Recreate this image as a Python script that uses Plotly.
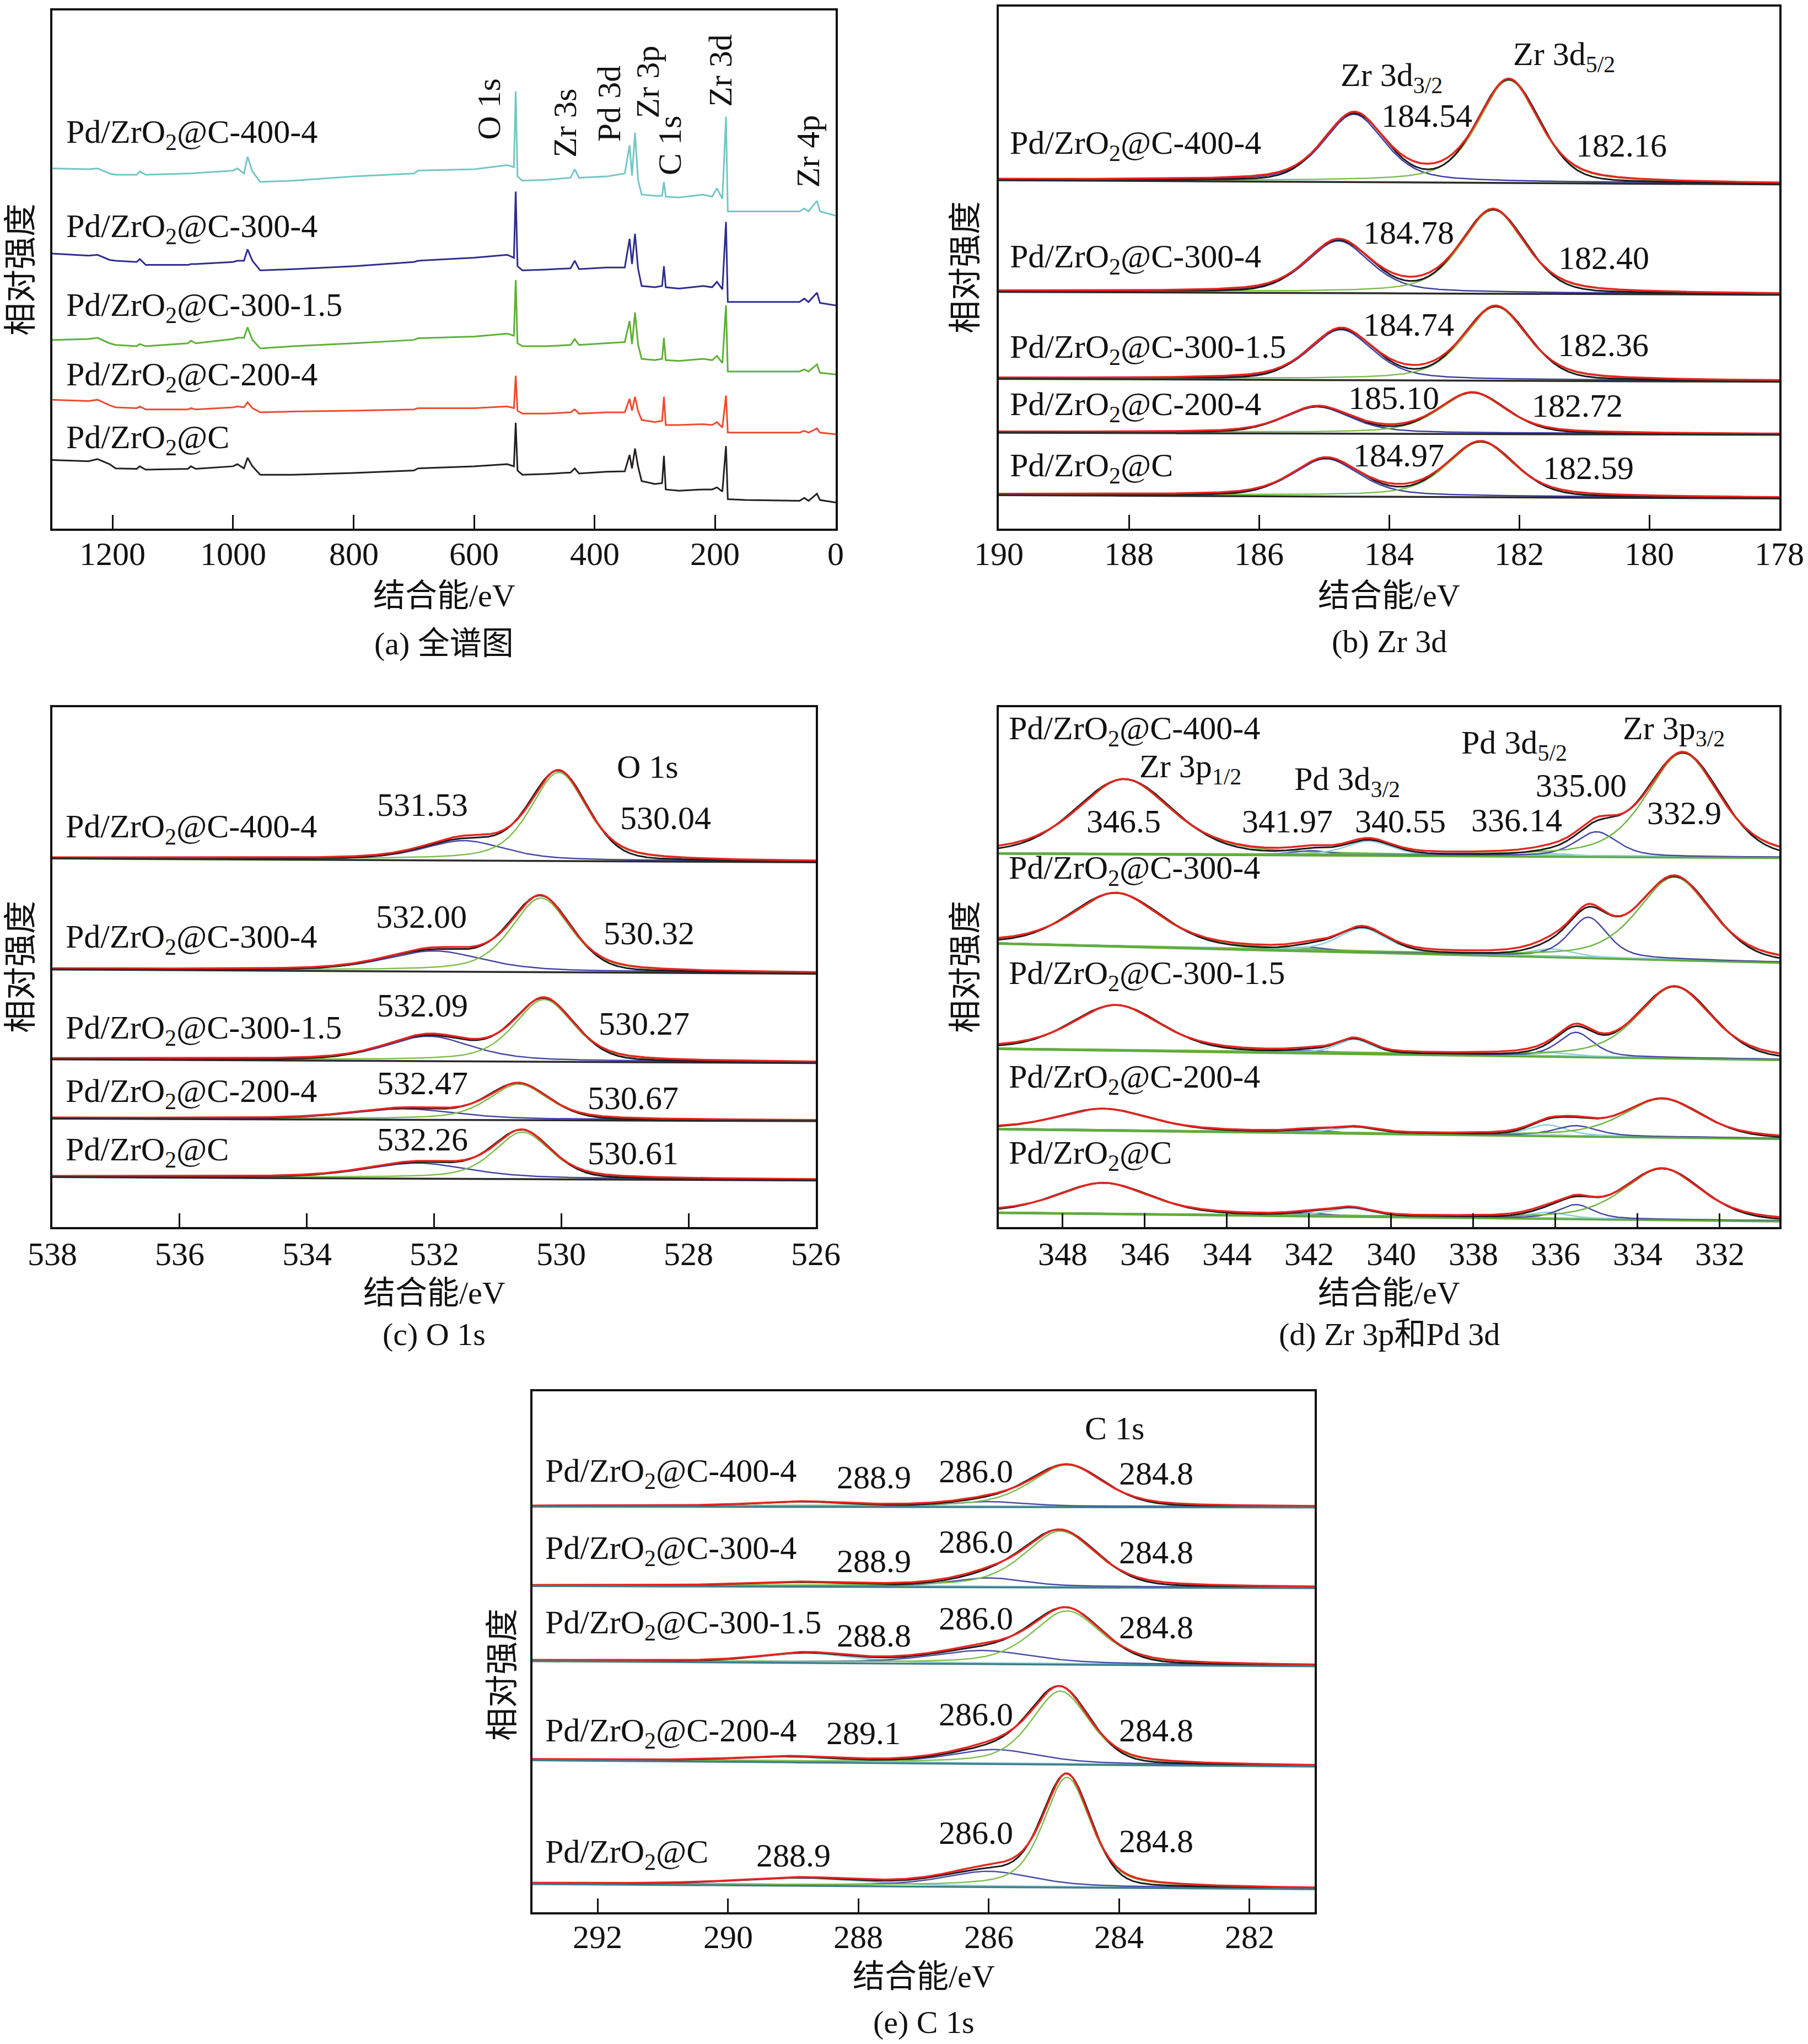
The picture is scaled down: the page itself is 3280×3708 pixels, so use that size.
import numpy as np
import plotly.graph_objects as go

FONT = "Liberation Serif, Noto Sans CJK SC, serif"
W, H = 3280, 3708

SAMPLES = ["Pd/ZrO<sub>2</sub>@C-400-4", "Pd/ZrO<sub>2</sub>@C-300-4", "Pd/ZrO<sub>2</sub>@C-300-1.5",
           "Pd/ZrO<sub>2</sub>@C-200-4", "Pd/ZrO<sub>2</sub>@C"]

# ---------------- (a) survey spectra ----------------
A_ENERGY = [1300, 1240, 1225, 1205, 1195, 1160, 1155, 1145, 1075, 1070,
            1062, 1000, 993, 982, 976, 968, 955, 900, 800, 700,
            693, 600, 545, 534, 531, 528, 520, 480, 440, 433,
            426, 380, 350, 342, 338, 333, 328, 322, 300, 288,
            285, 282, 260, 220, 205, 197, 188, 182, 179, 150,
            60, 52, 45, 31, 26, 0]
A_400_4 = [855, 853, 855, 843, 840, 840, 848, 840, 843, 843,
           844, 850, 855, 843, 883, 848, 823, 826, 836, 843,
           850, 853, 863, 858, 1038, 836, 826, 828, 833, 853,
           833, 836, 843, 910, 838, 940, 828, 793, 790, 790,
           823, 788, 786, 793, 788, 808, 783, 978, 753, 753,
           753, 760, 753, 778, 753, 743]
A_300_4 = [653, 648, 650, 638, 636, 633, 640, 626, 626, 628,
           628, 633, 636, 636, 663, 636, 613, 616, 623, 633,
           636, 643, 650, 643, 800, 623, 613, 615, 618, 636,
           616, 620, 620, 688, 628, 700, 618, 576, 573, 576,
           623, 573, 570, 576, 573, 586, 568, 728, 538, 538,
           538, 546, 538, 560, 536, 530]
A_300_15 = [448, 450, 453, 440, 436, 433, 438, 433, 440, 446,
            440, 450, 453, 453, 478, 448, 428, 433, 440, 448,
            452, 456, 463, 458, 590, 440, 433, 433, 436, 450,
            436, 440, 443, 493, 438, 513, 438, 403, 400, 403,
            453, 400, 398, 403, 400, 410, 393, 530, 373, 373,
            373, 378, 373, 390, 370, 366]
A_200_4 = [306, 303, 306, 293, 288, 286, 290, 283, 283, 286,
           283, 288, 290, 288, 300, 286, 276, 278, 280, 283,
           286, 286, 290, 286, 363, 280, 273, 273, 276, 283,
           273, 276, 276, 308, 280, 313, 280, 258, 253, 256,
           313, 246, 246, 248, 246, 253, 240, 316, 228, 228,
           228, 232, 228, 238, 228, 224]
A_C = [163, 160, 165, 153, 143, 142, 148, 140, 142, 148,
       142, 148, 153, 143, 168, 148, 128, 128, 132, 138,
       143, 148, 153, 148, 251, 138, 128, 130, 133, 143,
       131, 135, 136, 175, 143, 190, 148, 113, 106, 108,
       173, 93, 90, 93, 93, 98, 88, 196, 70, 68,
       66, 73, 66, 83, 68, 62]
A_COLORS = ["#74c6c4", "#2d2d8f", "#5cb035", "#ee4a2e", "#231f20"]
A_NAME_Y = [936, 713, 526, 360, 211]
A_PEAK_TEXT = ["O 1s", "Zr 3s", "Pd 3d", "Zr 3p", "C 1s", "Zr 3d", "Zr 4p"]
A_PEAK_X = [575.5, 449.5, 376.4, 312.4, 275.9, 191.8, 45.7]
A_PEAK_Y = [996, 963, 1008, 1060, 910, 1088, 896]

# ---------------- (b) Zr 3d ----------------
B_BASE_L = [823, 560, 355, 228, 81]
B_BASE_R = [813, 553, 348, 223, 73]
B_CENTERS = [[184.54, 182.16], [184.78, 182.40], [184.74, 182.36], [185.10, 182.72], [184.97, 182.59]]
B_HEIGHTS = [[158, 240], [121, 195], [117, 172], [61, 95], [87, 128]]
B_FWHM = [[1.1, 1.1], [1.15, 1.15], [1.15, 1.15], [1.2, 1.2], [1.2, 1.2]]
B_COMP_COLORS = ["#3c3ca2", "#7cbf4a"]
B_NAME_Y = [903, 636, 423, 288, 143]
B_VAL_TEXT = ["184.54", "182.16", "184.78", "182.40", "184.74", "182.36", "185.10", "182.72", "184.97", "182.59"]
B_VAL_X = [183.42, 180.43, 183.70, 180.70, 183.70, 180.71, 183.93, 181.11, 183.85, 180.94]
B_VAL_Y = [973, 903, 698, 638, 480, 433, 308, 290, 173, 143]
B_TITLE_TEXT = ["Zr 3d<sub>3/2</sub>", "Zr 3d<sub>5/2</sub>"]
B_TITLE_X = [183.96, 181.31]
B_TITLE_Y = [1063, 1113]

# ---------------- (c) O 1s ----------------
C_BASE_L = [872, 610, 398, 258, 120]
C_BASE_R = [863, 600, 389, 252, 112]
C_CENTERS = [[531.53, 530.04], [532.00, 530.32], [532.09, 530.27], [532.47, 530.67], [532.26, 530.61]]
C_HEIGHTS = [[45, 207], [47, 173], [57, 145], [24, 83], [35, 109]]
C_FWHM = [[1.5, 1.05], [1.8, 1.1], [1.6, 1.1], [1.9, 1.1], [1.9, 1.05]]
C_COMP_COLORS = ["#4444a8", "#7cbf4a"]
C_NAME_Y = [940, 680, 465, 315, 177]
C_VAL_TEXT = ["531.53", "530.04", "532.00", "530.32", "532.09", "530.27", "532.47", "530.67", "532.26", "530.61"]
C_VAL_X = [532.18, 528.36, 532.20, 528.62, 532.18, 528.70, 532.18, 528.87, 532.18, 528.87]
C_VAL_Y = [997, 965, 733, 693, 523, 480, 339, 305, 207, 175]
C_TITLE_TEXT = ["O 1s"]
C_TITLE_X = [528.64]
C_TITLE_Y = [1087]

# ---------------- (d) Zr 3p and Pd 3d ----------------
D_BASE_L = [885, 672, 423, 233, 35]
D_BASE_R = [875, 627, 397, 210, 15]
D_CENTERS = [[346.5, 341.97, 340.55, 336.14, 335.00, 332.9],
             [346.7, 342.0, 340.7, 336.1, 335.2, 333.1],
             [346.7, 342.0, 340.9, 336.1, 335.5, 333.1],
             [347.0, 342.0, 340.9, 336.2, 335.5, 333.4],
             [347.0, 342.0, 341.0, 336.2, 335.5, 333.4]]
D_HEIGHTS = [[176, 10, 33, 6, 58, 245],
             [125, 8, 56, 18, 95, 195],
             [106, 5, 33, 8, 57, 168],
             [50, 6, 14, 25, 24, 90],
             [72, 6, 19, 14, 33, 120]]
D_FWHM = [[2.7, 1.0, 1.3, 1.2, 1.2, 2.1],
          [2.5, 1.0, 1.4, 1.2, 1.1, 2.1],
          [2.5, 1.0, 1.0, 1.2, 1.0, 2.1],
          [2.6, 1.0, 1.2, 1.1, 1.2, 2.2],
          [2.6, 1.0, 1.2, 1.1, 1.0, 2.2]]
D_COMP_COLORS = ["#6cb643", "#5555aa", "#8fcfdc", "#8fcfdc", "#4545a5", "#6cb643"]
D_NAME_Y = [1175, 845, 595, 350, 170]
D_VAL_TEXT = ["346.5", "341.97", "340.55", "336.14", "335.00", "332.9"]
D_VAL_X = [346.51, 342.52, 339.77, 336.94, 335.37, 332.86]
D_VAL_Y = [960, 960, 960, 963, 1045, 980]
D_TITLE_TEXT = ["Zr 3p<sub>1/2</sub>", "Pd 3d<sub>3/2</sub>", "Pd 3d<sub>5/2</sub>", "Zr 3p<sub>3/2</sub>"]
D_TITLE_X = [344.89, 341.07, 337.01, 333.12]
D_TITLE_Y = [1085, 1055, 1140, 1175]

# ---------------- (e) C 1s ----------------
E_BASE_L = [952, 766, 590, 358, 68]
E_BASE_R = [950, 761, 578, 343, 56]
E_CENTERS = [[288.9, 286.0, 284.8], [288.9, 286.0, 284.9], [288.8, 286.1, 284.8],
             [289.1, 285.9, 284.9], [288.9, 286.0, 284.8]]
E_HEIGHTS = [[10, 11, 97], [8, 20, 130], [21, 30, 124], [11, 32, 170], [16, 35, 256]]
E_FWHM = [[1.6, 1.3, 1.3], [1.8, 1.3, 1.3], [1.6, 1.8, 1.25], [1.8, 1.6, 1.05], [2.2, 1.6, 0.85]]
E_COMP_COLORS = ["#8fd0d8", "#4a4aa8", "#7cc150"]
E_NAME_Y = [1028, 848, 673, 420, 136]
E_VAL_TEXT = ["288.9", "286.0", "284.8", "288.9", "286.0", "284.8", "288.8", "286.0", "284.8",
              "289.1", "286.0", "284.8", "288.9", "286.0", "284.8"]
E_VAL_X = [287.76, 286.2, 283.43, 287.76, 286.2, 283.43, 287.76, 286.2, 283.43,
           287.92, 286.2, 283.43, 289.0, 286.2, 283.43]
E_VAL_Y = [1018, 1033, 1028, 823, 868, 843, 648, 688, 668, 420, 463, 426, 133, 186, 166]
E_TITLE_TEXT = ["C 1s"]
E_TITLE_X = [284.07]
E_TITLE_Y = [1133]

ETA_FIT = 0.5
ETA_DATA = 0.2


def pvoigt(x, c, h, w, eta):
    g = np.exp(-4 * np.log(2) * ((x - c) / w) ** 2)
    lo = 1.0 / (1.0 + 4 * ((x - c) / w) ** 2)
    return h * (eta * lo + (1 - eta) * g)


fig = go.Figure()

# panel geometry in page pixels: (left, right, top, bottom)
PANELS = {
    "a": (95, 1516, 19, 959),
    "b": (1812, 3228, 12, 959),
    "c": (95, 1480, 1283, 2226),
    "d": (1812, 3228, 1283, 2226),
    "e": (966, 2385, 2524, 3469),
}
AX = {"a": "", "b": "2", "c": "3", "d": "4", "e": "5"}
XR = {"a": [1300, 0], "b": [190, 178], "c": [538, 526], "d": [349.55, 330.55], "e": [293, 281]}
YR = {"a": [0, 1230], "b": [0, 1230], "c": [0, 1227], "d": [0, 1230], "e": [0, 1220]}
TICKS = {
    "a": [1200, 1000, 800, 600, 400, 200, 0],
    "b": [190, 188, 186, 184, 182, 180, 178],
    "c": [538, 536, 534, 532, 530, 528, 526],
    "d": [348, 346, 344, 342, 340, 338, 336, 334, 332],
    "e": [292, 290, 288, 286, 284, 282],
}
TICKLABEL_Y = {"a": 1005, "b": 1005, "c": 2275, "d": 2275, "e": 3514}
CAPTIONS = {"a": "(a) 全谱图", "b": "(b) Zr 3d", "c": "(c) O 1s", "d": "(d) Zr 3p和Pd 3d", "e": "(e) C 1s"}
YTITLE_POS = {"a": (38, 489), "b": (1752, 485), "c": (38, 1754), "d": (1752, 1754), "e": (912, 3038)}
XTITLE_Y = {"a": (1080, 1167), "b": (1080, 1163), "c": (2345, 2420), "d": (2345, 2420), "e": (3585, 3668)}

annotations = []


def ann(p, x, y, text, size=60, xanchor="center", angle=0):
    annotations.append(dict(x=x, y=y, xref="x" + AX[p], yref="y" + AX[p], text=text, showarrow=False,
                            xanchor=xanchor, yanchor="middle", textangle=angle,
                            font=dict(family=FONT, size=size, color="#111")))


def paper_ann(xpx, ypx, text, size=58, angle=0):
    annotations.append(dict(x=xpx / W, y=1 - ypx / H, xref="paper", yref="paper", text=text,
                            showarrow=False, xanchor="center", yanchor="middle", textangle=angle,
                            font=dict(family=FONT, size=size, color="#111")))


# ---- panel a traces
for vals, col in zip([A_400_4, A_300_4, A_300_15, A_200_4, A_C], A_COLORS):
    fig.add_trace(go.Scatter(x=A_ENERGY, y=vals, mode="lines", line=dict(color=col, width=3),
                             xaxis="x", yaxis="y", showlegend=False, hoverinfo="skip"))
for name, y in zip(SAMPLES, A_NAME_Y):
    ann("a", 1279, y, name, xanchor="left")
for t, x, y in zip(A_PEAK_TEXT, A_PEAK_X, A_PEAK_Y):
    ann("a", x, y, t, angle=-90)


def fit_panel(p, base_l, base_r, centers, heights, fwhms, comp_colors, base_color):
    x0, x1 = XR[p]
    xs = np.linspace(x0, x1, 900)
    for i in range(len(base_l)):
        base = base_l[i] + (base_r[i] - base_l[i]) * (xs - x0) / (x1 - x0)
        ax = dict(xaxis="x" + AX[p], yaxis="y" + AX[p], showlegend=False, hoverinfo="skip", mode="lines")
        fit = base.copy()
        data = base.copy()
        for c, h, w, col in zip(centers[i], heights[i], fwhms[i], comp_colors):
            comp = pvoigt(xs, c, h, w, ETA_FIT)
            fit = fit + comp
            data = data + pvoigt(xs, c, h, w * 1.03, ETA_DATA)
            fig.add_trace(go.Scatter(x=xs, y=base + comp, line=dict(color=col, width=2.5), **ax))
        fig.add_trace(go.Scatter(x=xs, y=data, line=dict(color="#1a1a1a", width=3), **ax))
        fig.add_trace(go.Scatter(x=xs, y=fit, line=dict(color="#e8231f", width=3.5), **ax))
        fig.add_trace(go.Scatter(x=xs, y=base - 2, line=dict(color=base_color, width=3.5), **ax))


fit_panel("b", B_BASE_L, B_BASE_R, B_CENTERS, B_HEIGHTS, B_FWHM, B_COMP_COLORS, "#2a2a2a")
fit_panel("c", C_BASE_L, C_BASE_R, C_CENTERS, C_HEIGHTS, C_FWHM, C_COMP_COLORS, "#2a2a2a")
fit_panel("d", D_BASE_L, D_BASE_R, D_CENTERS, D_HEIGHTS, D_FWHM, D_COMP_COLORS, "#5faa3c")
fit_panel("e", E_BASE_L, E_BASE_R, E_CENTERS, E_HEIGHTS, E_FWHM, E_COMP_COLORS, "#3f7f88")

NAME_X = {"b": 189.85, "c": 537.81, "d": 349.33, "e": 292.82}
for p, ys in [("b", B_NAME_Y), ("c", C_NAME_Y), ("d", D_NAME_Y), ("e", E_NAME_Y)]:
    for name, y in zip(SAMPLES, ys):
        ann(p, NAME_X[p], y, name, xanchor="left")
for p, tt, xx, yy in [("b", B_VAL_TEXT, B_VAL_X, B_VAL_Y), ("c", C_VAL_TEXT, C_VAL_X, C_VAL_Y),
                      ("d", D_VAL_TEXT, D_VAL_X, D_VAL_Y), ("e", E_VAL_TEXT, E_VAL_X, E_VAL_Y),
                      ("b", B_TITLE_TEXT, B_TITLE_X, B_TITLE_Y), ("c", C_TITLE_TEXT, C_TITLE_X, C_TITLE_Y),
                      ("d", D_TITLE_TEXT, D_TITLE_X, D_TITLE_Y), ("e", E_TITLE_TEXT, E_TITLE_X, E_TITLE_Y)]:
    for t, x, y in zip(tt, xx, yy):
        ann(p, x, y, t)

layout = dict(width=W, height=H, margin=dict(l=0, r=0, t=0, b=0), paper_bgcolor="white",
              plot_bgcolor="white", showlegend=False)
for p, (l, r, t, b) in PANELS.items():
    k = AX[p]
    layout["xaxis" + k] = dict(domain=[l / W, r / W], range=XR[p], anchor="y" + k,
                               tickvals=TICKS[p], showticklabels=False,
                               ticks="inside", ticklen=25, tickwidth=3, tickcolor="#111",
                               showline=True, linewidth=4, linecolor="#111", mirror=True,
                               showgrid=False, zeroline=False)
    layout["yaxis" + k] = dict(domain=[1 - b / H, 1 - t / H], range=YR[p], anchor="x" + k,
                               showticklabels=False, ticks="", showline=True, linewidth=4,
                               linecolor="#111", mirror=True, showgrid=False, zeroline=False)
    # tick labels placed on the axis' own data scale
    for v in TICKS[p]:
        annotations.append(dict(x=v, y=1 - TICKLABEL_Y[p] / H, xref="x" + k, yref="paper",
                                text=str(v), showarrow=False, xanchor="center", yanchor="middle",
                                font=dict(family=FONT, size=60, color="#111")))
    cx = (l + r) / 2
    ty, cy = XTITLE_Y[p]
    paper_ann(cx, ty, "结合能/eV", size=58)
    paper_ann(cx, cy, CAPTIONS[p], size=58)
    yx, yy = YTITLE_POS[p]
    paper_ann(yx, yy, "相对强度", size=60, angle=-90)

layout["annotations"] = annotations
fig.update_layout(**layout)
fig.write_html(
    "out.html",
    config={"displayModeBar": False},
    post_script="document.body.style.margin='0';document.body.style.padding='0';"
                "document.documentElement.style.overflow='hidden';document.body.style.overflow='hidden';",
)
